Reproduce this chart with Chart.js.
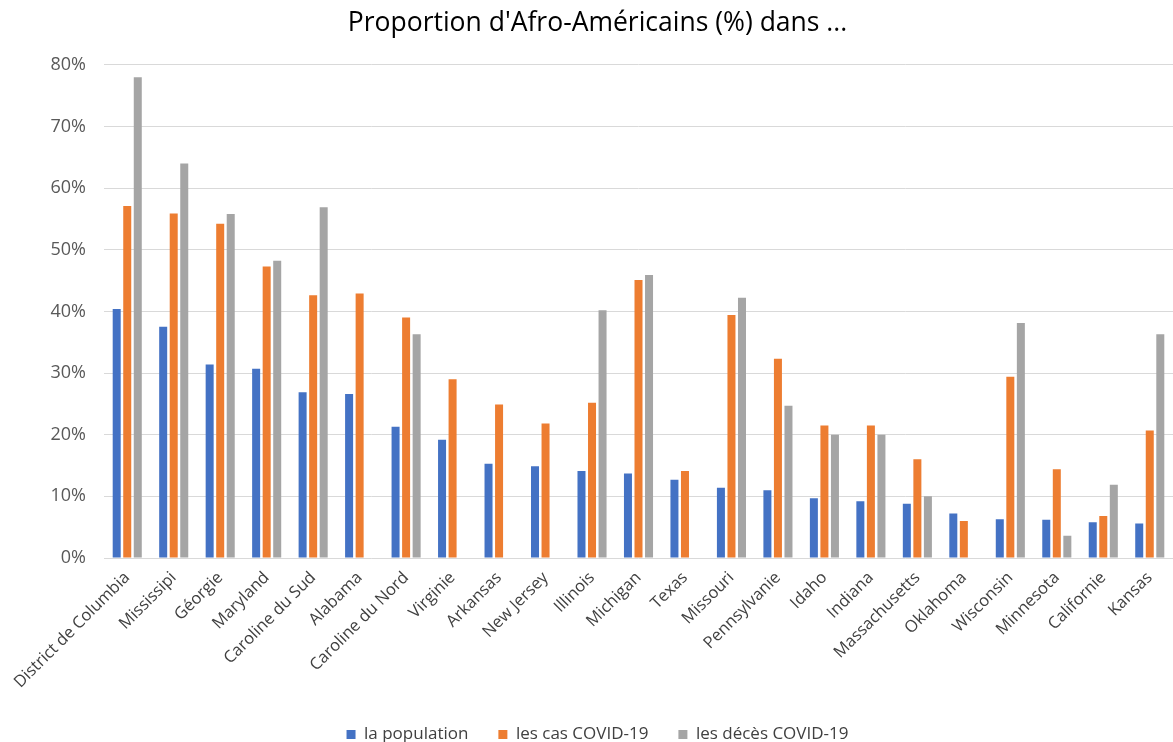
<!DOCTYPE html>
<html>
<head>
<meta charset="utf-8">
<script src="https://cdn.jsdelivr.net/npm/chart.js@4/dist/chart.umd.min.js"></script>
<style>
  html, body { margin: 0; padding: 0; background: #fff; }
  #wrap { width: 1173px; height: 742px; }
</style>
</head>
<body>
<div id="wrap"><canvas id="c" width="1173" height="742"></canvas></div>
<script>
const states = [
  'District de Columbia', 'Mississipi', 'Géorgie', 'Maryland', 'Caroline du Sud',
  'Alabama', 'Caroline du Nord', 'Virginie', 'Arkansas', 'New Jersey', 'Illinois',
  'Michigan', 'Texas', 'Missouri', 'Pennsylvanie', 'Idaho', 'Indiana',
  'Massachusetts', 'Oklahoma', 'Wisconsin', 'Minnesota', 'Californie', 'Kansas'
];

// Part of the population that is African-American (%)
const population = [40.4, 37.5, 31.4, 30.7, 26.9, 26.6, 21.3, 19.2, 15.3, 14.9, 14.1,
  13.7, 12.7, 11.4, 11.0, 9.7, 9.2, 8.8, 7.2, 6.3, 6.2, 5.8, 5.6];

// Share of COVID-19 cases (%)
const cases = [57.1, 55.9, 54.2, 47.3, 42.6, 42.9, 39.0, 29.0, 24.9, 21.8, 25.2,
  45.1, 14.1, 39.4, 32.3, 21.5, 21.5, 16.0, 6.0, 29.4, 14.4, 6.8, 20.7];

// Share of COVID-19 deaths (%), null where not reported
const deaths = [78.0, 64.0, 55.8, 48.2, 56.9, null, 36.3, null, null, null, 40.2,
  45.9, null, 42.2, 24.7, 20.0, 20.0, 10.0, null, 38.1, 3.6, 11.9, 36.3];

const yTicks = [0, 10, 20, 30, 40, 50, 60, 70, 80];

const FONT = "'Open Sans', 'Noto Sans', sans-serif";
const DARK_TEXT = '#404040';
const GREY_TEXT = '#595959';

new Chart(document.getElementById('c'), {
  type: 'bar',
  data: {
    labels: states,
    datasets: [
      { label: 'la population', data: population, backgroundColor: '#4472C4' },
      { label: 'les cas COVID-19', data: cases, backgroundColor: '#ED7D31' },
      { label: 'les décès COVID-19', data: deaths, backgroundColor: '#A5A5A5' }
    ]
  },
  options: {
    responsive: false,
    animation: false,
    devicePixelRatio: 1,
    layout: { padding: { left: 16, right: -6, top: 0, bottom: -11 } },
    datasets: {
      bar: { categoryPercentage: 0.68, barPercentage: 0.76, borderWidth: 0 }
    },
    plugins: {
      title: {
        display: true,
        text: "Proportion d'Afro-Américains (%) dans ...",
        color: '#000',
        font: { family: FONT, size: 26.5, weight: 'normal' },
        padding: { top: 8, bottom: 25 }
      },
      legend: {
        position: 'bottom',
        labels: {
          boxWidth: 9, boxHeight: 9,
          color: DARK_TEXT,
          padding: 30,
          font: { family: FONT, size: 17 }
        }
      },
      tooltip: { enabled: false }
    },
    scales: {
      x: {
        grid: { display: false },
        border: { display: false },
        ticks: {
          color: DARK_TEXT,
          font: { family: FONT, size: 16.5 },
          minRotation: 45, maxRotation: 45,
          autoSkip: false,
          padding: 2
        },
        afterFit: (s) => { s.height = 138; }
      },
      y: {
        min: 0, max: 80,
        afterBuildTicks: (s) => { s.ticks = yTicks.map(v => ({ value: v })); },
        grid: { color: '#D9D9D9', lineWidth: 1, drawTicks: false },
        border: { display: false },
        ticks: {
          color: GREY_TEXT,
          font: { family: FONT, size: 18 },
          padding: 18,
          callback: (v) => v + '%'
        },
        afterFit: (s) => { s.width = 88; }
      }
    }
  }
});
</script>
</body>
</html>
